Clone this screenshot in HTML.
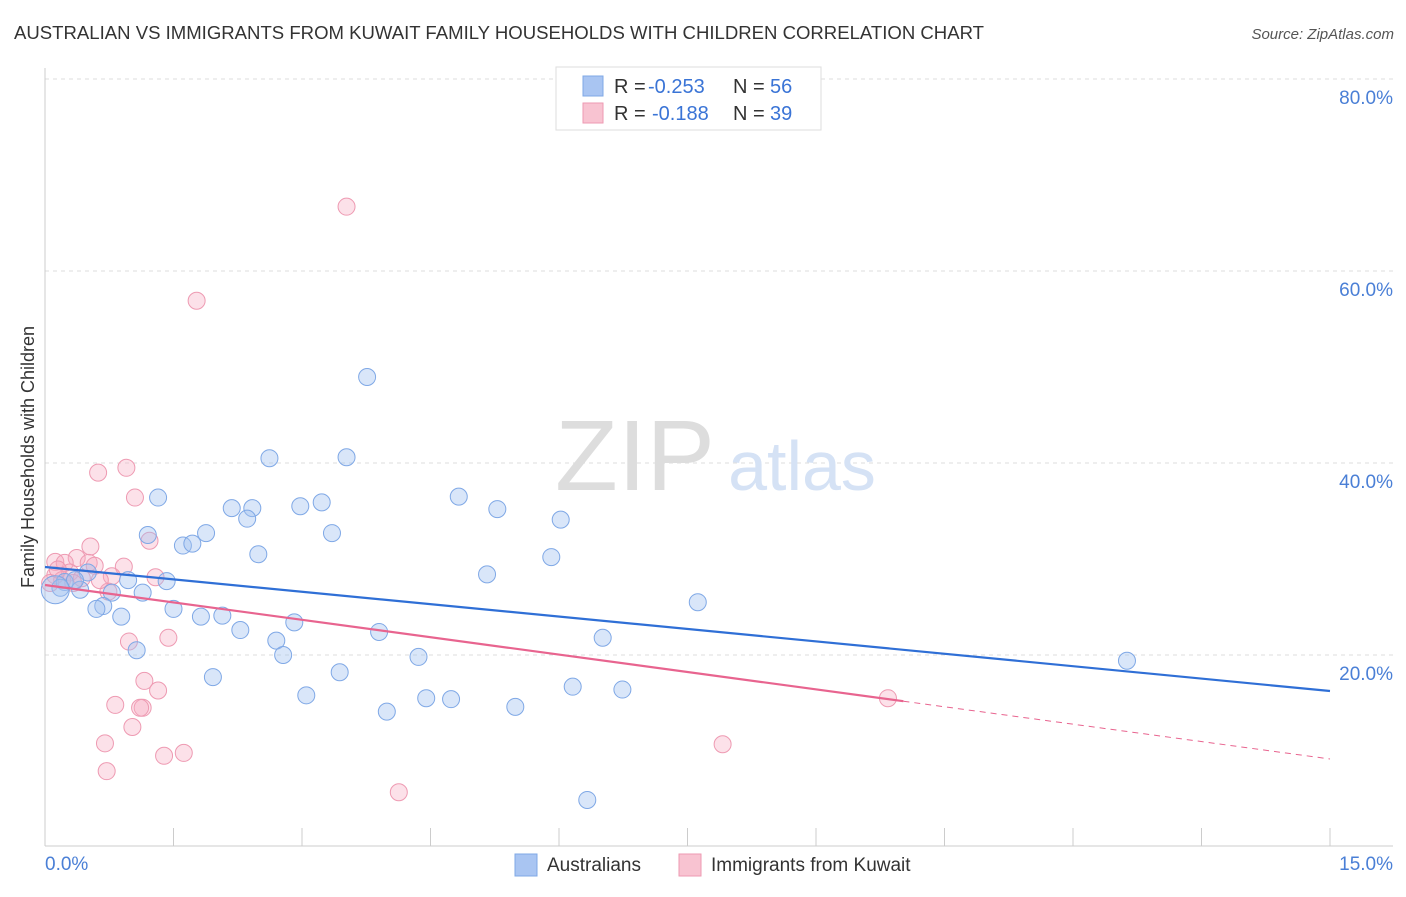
<!DOCTYPE html>
<html><head><meta charset="utf-8"><style>
body{margin:0;background:#fff;font-family:"Liberation Sans",sans-serif}
svg text{font-family:"Liberation Sans",sans-serif}
</style></head><body>
<svg id="c" width="1406" height="892"></svg>
<script>
const blueX=[3.76,2.62,3.52,1.32,4.83,3.23,2.98,2.18,2.42,5.28,2.36,6.02,1.2,1.88,3.35,1.61,1.72,2.49,5.91,5.16,0.5,0.97,1.42,0.23,0.41,0.78,1.14,7.62,0.68,0.6,1.5,0.89,1.82,2.07,2.91,2.28,3.9,6.51,2.7,1.07,2.78,4.36,12.63,3.44,1.96,6.16,6.74,3.05,4.45,4.74,5.49,3.99,6.33,0.35,0.18,0.12];
const blueY=[48.96,40.5,40.6,36.4,36.5,35.9,35.5,35.3,35.3,35.2,34.2,34.1,32.5,32.7,32.7,31.4,31.6,30.5,30.2,28.4,28.6,27.8,27.7,27.6,26.8,26.5,26.5,25.5,25.1,24.8,24.8,24.0,24.0,24.1,23.4,22.6,22.4,21.8,21.5,20.5,20.0,19.8,19.4,18.2,17.7,16.7,16.4,15.8,15.5,15.4,14.6,14.1,4.9,27.8,27.0,26.8];
const pinkX=[3.52,1.77,0.95,0.62,1.05,1.22,0.53,0.37,0.12,0.23,0.51,0.92,0.58,0.29,0.12,0.78,1.29,0.43,0.2,0.33,0.74,0.98,1.44,1.16,1.32,0.82,1.14,1.11,1.02,0.7,7.91,1.62,1.39,0.72,4.13,9.84,0.06,0.15,0.64];
const pinkY=[66.7,56.9,39.5,39.0,36.4,31.9,31.3,30.1,29.7,29.6,29.6,29.2,29.3,28.6,28.3,28.2,28.1,28.0,27.8,27.5,26.6,21.4,21.8,17.3,16.3,14.8,14.5,14.5,12.5,10.8,10.7,9.8,9.5,7.9,5.7,15.5,27.5,28.9,27.8];
const blueTrend=[29.17,16.25];
const pinkTrend=[27.29,9.17];
const pinkSolidEnd=10.02;
const yTicks=[20,40,60,80];

const NS="http://www.w3.org/2000/svg";
const svg=document.getElementById('c');
const X=v=>45+v/15*1285, Y=v=>847-v*9.6;
function el(t,a,txt){const e=document.createElementNS(NS,t);for(const k in a)e.setAttribute(k,a[k]);if(txt!=null)e.textContent=txt;svg.appendChild(e);return e;}

let e;
e=el('text',{x:14,y:39,'font-size':18,fill:'#333',textLength:970,lengthAdjust:'spacingAndGlyphs'},'AUSTRALIAN VS IMMIGRANTS FROM KUWAIT FAMILY HOUSEHOLDS WITH CHILDREN CORRELATION CHART');

e=el('text',{x:1394,y:39,'font-size':15,fill:'#555','font-style':'italic','text-anchor':'end'},'Source: ZipAtlas.com');


yTicks.forEach(t=>{
  e=el('line',{x1:45,x2:1393,y1:Y(t),y2:Y(t),stroke:'#ddd','stroke-dasharray':'4,4'});
  
  e=el('text',{x:1393,y:Y(t)+25,'font-size':19,fill:'#4a7fd6','text-anchor':'end'},t.toFixed(1)+'%');
  
});
e=el('line',{x1:45,x2:45,y1:68,y2:846,stroke:'#ccc'});

e=el('line',{x1:45,x2:1393,y1:846,y2:846,stroke:'#ccc'});

for(let i=1;i<=10;i++){
  e=el('line',{x1:X(i*1.5),x2:X(i*1.5),y1:828,y2:846,stroke:'#ccc'});
  
}
e=el('text',{x:45,y:870,'font-size':19,fill:'#4a7fd6'},'0.0%');

e=el('text',{x:1393,y:870,'font-size':19,fill:'#4a7fd6','text-anchor':'end'},'15.0%');

e=el('text',{x:34,y:457,'font-size':18,fill:'#333','text-anchor':'middle',transform:'rotate(-90 34 457)'},'Family Households with Children');


e=el('text',{x:635,y:490,'font-size':100,fill:'#ddd','font-family':'Liberation Serif','text-anchor':'middle',textLength:160,lengthAdjust:'spacingAndGlyphs'},'ZIP');

e=el('text',{x:802,y:490,'font-size':70,fill:'#d5e2f5','text-anchor':'middle'},'atlas');


pinkX.forEach((v,i)=>{
  const c=el('circle',{cx:X(v),cy:Y(pinkY[i]),r:8.5,fill:'rgba(245,170,192,0.35)',stroke:'#ee9ab2','stroke-width':1});
  
  
});
blueX.forEach((v,i)=>{
  const c=el('circle',{cx:X(v),cy:Y(blueY[i]),r:i==blueX.length-1?14:8.5,fill:'rgba(160,192,240,0.4)',stroke:'#7fa8e6','stroke-width':1});
  
  
});
e=el('line',{x1:X(0),y1:Y(blueTrend[0]),x2:X(15),y2:Y(blueTrend[1]),stroke:'#2f6fd6','stroke-width':2.2});

const py=x=>pinkTrend[0]+(pinkTrend[1]-pinkTrend[0])*x/15;
e=el('line',{x1:X(0),y1:Y(py(0)),x2:X(pinkSolidEnd),y2:Y(py(pinkSolidEnd)),stroke:'#e8648f','stroke-width':2.2});

e=el('line',{x1:X(pinkSolidEnd),y1:Y(py(pinkSolidEnd)),x2:X(15),y2:Y(py(15)),stroke:'#e8648f','stroke-width':1,'stroke-dasharray':'6,5'});


e=el('rect',{x:556,y:67,width:265,height:63,fill:'#fff',stroke:'#ddd'});

[[0,'#a9c5f2','#7fa8e6','-0.253','56'],[1,'#f8c3d1','#ee9ab2','-0.188','39']].forEach(r=>{
  const y=86+r[0]*27;
  e=el('rect',{x:583,y:y-10,width:20,height:20,fill:r[1],stroke:r[2]});
  
  e=el('text',{x:614,y:y+7,'font-size':20,fill:'#333'},'R = ');
  
  e=el('text',{x:r[0]?652:648,y:y+7,'font-size':20,fill:'#3a74d6'},r[3]);
  
  e=el('text',{x:733,y:y+7,'font-size':20,fill:'#333'},'N = ');
  
  e=el('text',{x:770,y:y+7,'font-size':20,fill:'#3a74d6'},r[4]);
  
});
e=el('rect',{x:515,y:854,width:22,height:22,fill:'#a9c5f2',stroke:'#7fa8e6'});

e=el('text',{x:547,y:871,'font-size':19,fill:'#333'},'Australians');

e=el('rect',{x:679,y:854,width:22,height:22,fill:'#f8c3d1',stroke:'#ee9ab2'});

e=el('text',{x:711,y:871,'font-size':19,fill:'#333'},'Immigrants from Kuwait');

</script></body></html>
